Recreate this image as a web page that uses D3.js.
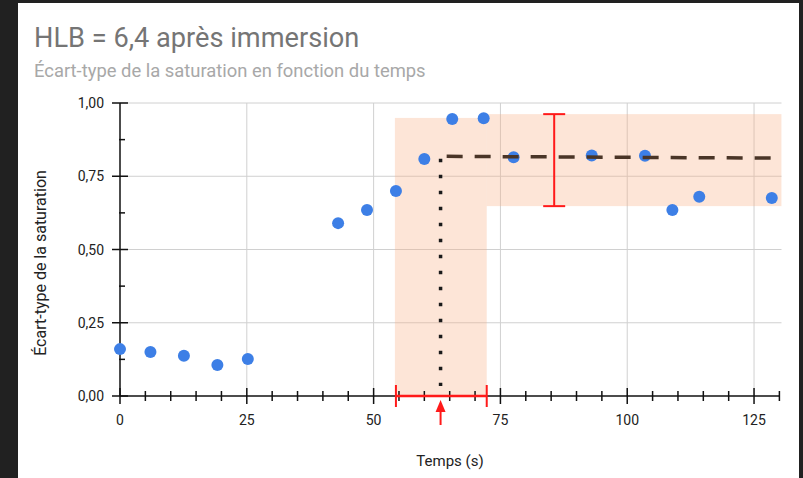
<!DOCTYPE html>
<html><head><meta charset="utf-8">
<script src="https://cdn.jsdelivr.net/npm/d3@7"></script>
<style>
html,body{margin:0;padding:0;background:#212121;}
svg{display:block;}
</style></head>
<body>
<svg id="chart" width="803" height="478"></svg>
<script>
// ---- data ----
const title = "HLB = 6,4 après immersion";
const subtitle = "Écart-type de la saturation en fonction du temps";
const xLabel = "Temps (s)";
const yLabel = "Écart-type de la saturation";
const times = [0, 6, 12.6, 19.2, 25.2, 43, 48.7, 54.4, 60, 65.5, 71.7, 77.6, 93, 103.5, 108.9, 114.2, 128.5];
const stdSat = [0.160, 0.150, 0.137, 0.106, 0.126, 0.590, 0.635, 0.700, 0.809, 0.945, 0.948, 0.815, 0.821, 0.820, 0.635, 0.680, 0.676];
const xTicks = [0, 25, 50, 75, 100, 125];
const yTicks = [0, 0.25, 0.5, 0.75, 1];
// annotation values
const transitionBand = [54.2, 72.3, 0, 0.949];   // x0, x1, y0, y1
const plateauBand = [72.3, 130.4, 0.648, 0.962];
const plateauLine = [[64.4, 0.818], [128.3, 0.812]];
const transitionTime = 63.2;
const transitionLevel = 0.81;
const xErr = [54.4, 72.3];
const yErrX = 85.6;
const yErr = [0.648, 0.962];

const svg = d3.select("#chart");
svg.append("rect").attr("x", 18).attr("y", 3).attr("width", 781).attr("height", 475).attr("fill", "#fff");

const x = d3.scaleLinear().domain([0, 130]).range([120, 779.4]);
const y = d3.scaleLinear().domain([0, 1]).range([396, 103]);
const fmt = v => d3.format(".2f")(v).replace(".", ",");

// titles
svg.append("text").attr("x", 34).attr("y", 47).text(title)
  .attr("font-family", "Roboto, sans-serif").attr("font-size", 27.2).attr("fill", "#757575");
svg.append("text").attr("x", 34).attr("y", 77).text(subtitle)
  .attr("font-family", "Roboto, sans-serif").attr("font-size", 18.4).attr("fill", "#a8a8a8");

// gridlines
const g = svg.append("g");
g.selectAll(".vg").data(xTicks.filter(d => d > 0)).join("line")
  .attr("x1", d => x(d)).attr("x2", d => x(d)).attr("y1", y(1)).attr("y2", y(0))
  .attr("stroke", "#d0d0d0").attr("stroke-width", 1);
g.selectAll(".hg").data(yTicks.filter(d => d > 0)).join("line")
  .attr("x1", x(0)).attr("x2", 781.5).attr("y1", d => y(d)).attr("y2", d => y(d))
  .attr("stroke", "#d0d0d0").attr("stroke-width", 1);

// shaded bands
const bandFill = "rgba(250,175,135,0.33)";
[transitionBand, plateauBand].forEach(b => {
  svg.append("rect").attr("x", x(b[0])).attr("y", y(b[3]))
    .attr("width", x(b[1]) - x(b[0])).attr("height", y(b[2]) - y(b[3]))
    .attr("fill", bandFill);
});

// axes
const axisColor = "#111";
const xAxisG = svg.append("g");
xAxisG.append("line").attr("x1", x(0)).attr("x2", x(130)).attr("y1", y(0)).attr("y2", y(0))
  .attr("stroke", axisColor).attr("stroke-width", 1.5);
xAxisG.selectAll(".xt").data(d3.range(0, 131, 5)).join("line")
  .attr("x1", d => x(d)).attr("x2", d => x(d))
  .attr("y1", d => y(0) - (d % 25 === 0 ? 8 : 5)).attr("y2", d => y(0) + (d % 25 === 0 ? 8 : 5))
  .attr("stroke", axisColor).attr("stroke-width", 1.5);
xAxisG.selectAll(".xl").data(xTicks).join("text")
  .attr("x", d => x(d)).attr("y", 425).attr("text-anchor", "middle").text(d => d)
  .attr("font-family", "Roboto, sans-serif").attr("font-size", 14).attr("fill", "#222");

const yAxisG = svg.append("g");
yAxisG.append("line").attr("x1", x(0)).attr("x2", x(0)).attr("y1", y(0)).attr("y2", y(1))
  .attr("stroke", axisColor).attr("stroke-width", 1.5);
yAxisG.selectAll(".yt").data(d3.range(0, 9).map(i => i * 0.125)).join("line")
  .attr("y1", d => y(d)).attr("y2", d => y(d))
  .attr("x1", (d, i) => x(0) - (i % 2 === 0 ? 8 : 1)).attr("x2", (d, i) => x(0) + (i % 2 === 0 ? 8 : 5))
  .attr("stroke", axisColor).attr("stroke-width", 1.5);
yAxisG.selectAll(".yl").data(yTicks).join("text")
  .attr("x", 104).attr("y", d => y(d) + 5).attr("text-anchor", "end").text(d => fmt(d))
  .attr("font-family", "Roboto, sans-serif").attr("font-size", 14).attr("fill", "#222");

// axis titles
svg.append("text").attr("x", 450).attr("y", 466).attr("text-anchor", "middle").text(xLabel)
  .attr("font-family", "Roboto, sans-serif").attr("font-size", 15).attr("fill", "#222");
svg.append("text").attr("transform", `translate(46,263) rotate(-90)`)
  .attr("text-anchor", "middle").text(yLabel)
  .attr("font-family", "Roboto, sans-serif").attr("font-size", 16).attr("fill", "#222");

// dotted vertical line
svg.append("line").attr("x1", x(transitionTime)).attr("x2", x(transitionTime))
  .attr("y1", y(transitionLevel)).attr("y2", y(0) - 10)
  .attr("stroke", "#1a1a1a").attr("stroke-width", 3.5).attr("stroke-dasharray", "3.5,12.5");

// red error bars
const red = "#ff1a1a";
svg.append("line").attr("x1", x(xErr[0])).attr("x2", x(xErr[1])).attr("y1", y(0)).attr("y2", y(0))
  .attr("stroke", red).attr("stroke-width", 2.5);
xErr.forEach(v => svg.append("line").attr("x1", x(v)).attr("x2", x(v)).attr("y1", y(0) - 11).attr("y2", y(0) + 11)
  .attr("stroke", red).attr("stroke-width", 2));
svg.append("line").attr("x1", x(yErrX)).attr("x2", x(yErrX)).attr("y1", y(yErr[0])).attr("y2", y(yErr[1]))
  .attr("stroke", red).attr("stroke-width", 2);
yErr.forEach(v => svg.append("line").attr("x1", x(yErrX) - 11).attr("x2", x(yErrX) + 11).attr("y1", y(v)).attr("y2", y(v))
  .attr("stroke", red).attr("stroke-width", 2));

// red arrow
const ax = x(transitionTime);
svg.append("line").attr("x1", ax).attr("x2", ax).attr("y1", 410).attr("y2", 425)
  .attr("stroke", red).attr("stroke-width", 2);
svg.append("path").attr("d", `M${ax},400 L${ax - 5},412 L${ax + 5},412 Z`).attr("fill", red);

// points
svg.selectAll(".pt").data(times.map((t, i) => [t, stdSat[i]])).join("circle")
  .attr("cx", d => x(d[0])).attr("cy", d => y(d[1])).attr("r", 6)
  .attr("fill", "#3d7fe6");

// dashed plateau line
svg.append("line").attr("x1", x(plateauLine[0][0])).attr("y1", y(plateauLine[0][1]))
  .attr("x2", x(plateauLine[1][0])).attr("y2", y(plateauLine[1][1]))
  .attr("stroke", "#4a3527").attr("stroke-width", 3.5).attr("stroke-dasharray", "16,12");
</script>
</body></html>
